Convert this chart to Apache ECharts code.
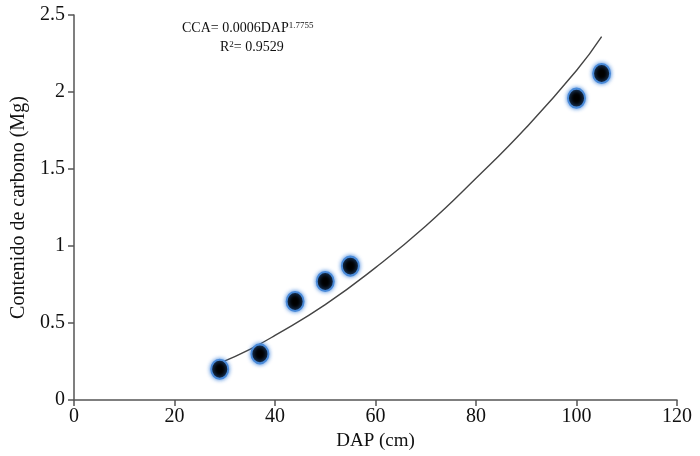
<!DOCTYPE html>
<html><head><meta charset="utf-8">
<script src="https://cdn.jsdelivr.net/npm/echarts@6/dist/echarts.min.js"></script>
<style>html,body{margin:0;padding:0;background:#fff}#c{width:700px;height:456px}</style>
</head><body><div id="c"></div>
<script>
// Observed data points (DAP cm, carbon Mg)
var pointsDAP = [29, 37, 44, 50, 55, 100, 105];
var pointsCarbon = [0.20, 0.30, 0.64, 0.77, 0.87, 1.96, 2.12];
// Trend curve
var curveDAP = [29, 35, 40, 50, 60, 70, 80, 90, 100, 105];
var curveCarbon = [0.24, 0.33, 0.42, 0.62, 0.86, 1.13, 1.44, 1.77, 2.14, 2.36];
var xTicks = [0, 20, 40, 60, 80, 100, 120];

var font = '"Liberation Serif", "Times New Roman", serif';
var chart = echarts.init(document.getElementById('c'));
chart.setOption({
  animation: false,
  backgroundColor: '#fff',
  grid: {left: 74, right: 23, top: 15, bottom: 55},
  xAxis: {
    type: 'value', min: 0, max: 120, interval: 20,
    name: 'DAP (cm)', nameLocation: 'middle', nameGap: 29,
    nameTextStyle: {fontFamily: font, fontSize: 19, color: '#111'},
    axisLine: {show: true, lineStyle: {color: '#555', width: 1.5}},
    axisTick: {show: true, length: 6, lineStyle: {color: '#555', width: 1.5}},
    axisLabel: {fontFamily: font, fontSize: 20, color: '#111', margin: 7},
    splitLine: {show: false}
  },
  yAxis: {
    type: 'value', min: 0, max: 2.5, interval: 0.5,
    name: 'Contenido de carbono (Mg)', nameLocation: 'middle', nameGap: 41,
    nameTextStyle: {fontFamily: font, fontSize: 20, color: '#111'},
    axisLine: {show: true, lineStyle: {color: '#555', width: 1.5}},
    axisTick: {show: true, length: 6, lineStyle: {color: '#555', width: 1.5}},
    axisLabel: {fontFamily: font, fontSize: 20, color: '#111', margin: 9},
    splitLine: {show: false}
  },
  graphic: [
    {type: 'text', left: 182, top: 21, style: {
      rich: {a: {fontFamily: font, fontSize: 14, fill: '#111'}, s: {fontFamily: font, fontSize: 9, fill: '#111', padding:[0,0,6,0]}},
      text: '{a|CCA= 0.0006DAP}{s|1.7755}'
    }},
    {type: 'text', left: 220, top: 40, style: {
      rich: {a: {fontFamily: font, fontSize: 14, fill: '#111'}, s: {fontFamily: font, fontSize: 9, fill: '#111', padding:[0,0,6,0]}},
      text: '{a|R}{s|2}{a|= 0.9529}'
    }}
  ],
  series: [
    {
      type: 'line', smooth: true, symbol: 'none',
      data: curveDAP.map(function(d, i){ return [d, curveCarbon[i]]; }),
      lineStyle: {color: '#444', width: 1.4}, z: 2
    },
    {
      type: 'scatter', symbol: 'circle', symbolSize: [17, 19],
      data: pointsDAP.map(function(d, i){ return [d, pointsCarbon[i]]; }),
      itemStyle: {color: '#000', borderColor: '#4a8ad8', borderWidth: 2, shadowBlur: 4, shadowColor: 'rgba(60,130,220,0.9)', opacity: 1},
      z: 3
    }
  ]
});
</script></body></html>
